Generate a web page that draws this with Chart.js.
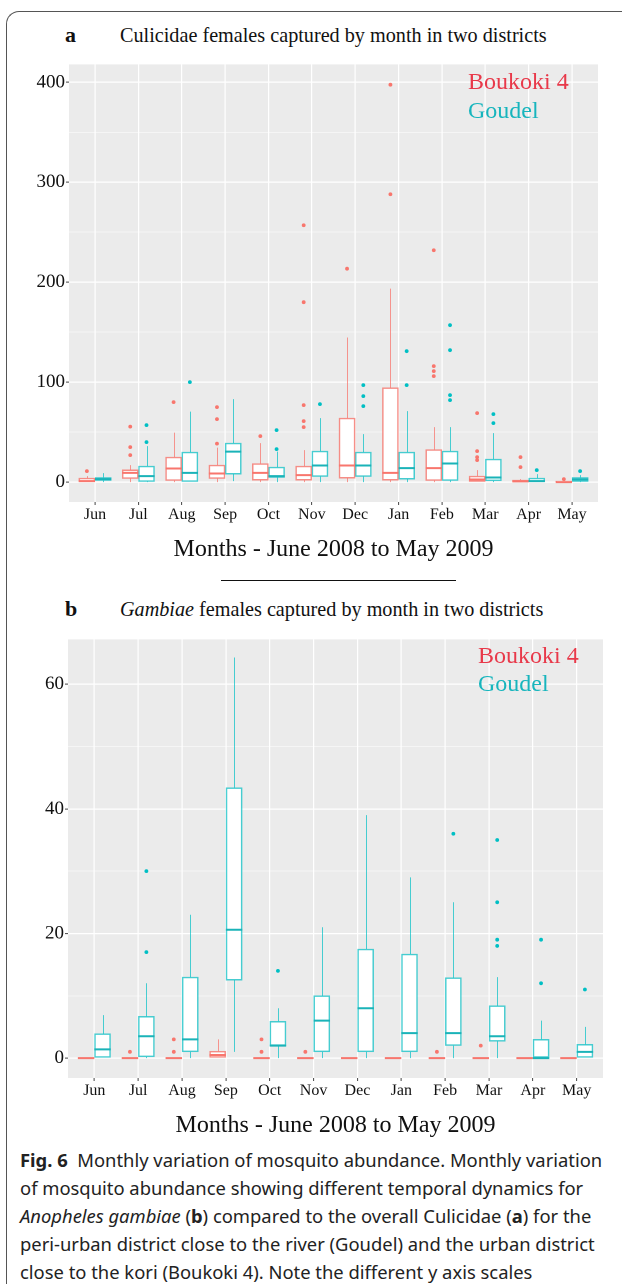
<!DOCTYPE html>
<html><head><meta charset="utf-8">
<script src="https://cdn.jsdelivr.net/npm/chart.js@4"></script>
<style>
body{margin:0;width:622px;height:1284px;overflow:hidden;background:#fff;position:relative;font-family:"Liberation Serif",serif;color:#111;}
.frame{position:absolute;left:6px;top:11px;width:640px;height:1300px;border:1.3px solid #555;border-right:none;border-bottom:none;border-radius:13px 0 0 0;box-sizing:border-box;}
.abs{position:absolute;white-space:nowrap;}
.cv{position:absolute;left:0;}
.lab{font-size:24px;line-height:28px;}
.ttl{font-size:20.2px;line-height:28px;}
.letter{font-size:22px;font-weight:bold;line-height:28px;}
.cap{left:20px;top:1146px;font-family:"Noto Sans",sans-serif;font-size:18.4px;line-height:28px;color:#222;}
</style></head>
<body>
<div class="frame"></div>
<div class="abs letter" style="left:65px;top:21px;">a</div>
<div class="abs ttl" style="left:120px;top:21px;">Culicidae females captured by month in two districts</div>
<canvas id="ca" class="cv" width="622" height="518" style="top:52px;"></canvas>
<div class="abs lab" style="left:468px;top:67px;color:#E8394A;">Boukoki 4</div>
<div class="abs lab" style="left:468px;top:96px;color:#17B5BD;">Goudel</div>
<div class="abs" style="left:221px;top:580px;width:235px;height:1px;background:#111;"></div>
<div class="abs letter" style="left:65px;top:595px;">b</div>
<div class="abs ttl" style="left:120px;top:595px;"><i>Gambiae</i> females captured by month in two districts</div>
<canvas id="cb" class="cv" width="622" height="519" style="top:627px;"></canvas>
<div class="abs lab" style="left:478px;top:641px;color:#E8394A;">Boukoki 4</div>
<div class="abs lab" style="left:478px;top:669px;color:#17B5BD;">Goudel</div>
<div class="abs cap"><b>Fig. 6</b>&nbsp; Monthly variation of mosquito abundance. Monthly variation<br>of mosquito abundance showing different temporal dynamics for<br><i>Anopheles gambiae</i> (<b>b</b>) compared to the overall Culicidae (<b>a</b>) for the<br>peri-urban district close to the river (Goudel) and the urban district<br>close to the kori (Boukoki 4). Note the different y axis scales</div>
<script>
// ---- data ----
const months = ['Jun','Jul','Aug','Sep','Oct','Nov','Dec','Jan','Feb','Mar','Apr','May'];
const axisTitle = 'Months - June 2008 to May 2009';
// [min, q1, median, q3, max]
const culicidaeBoukoki = [[0,0,1,4,6],[0,3.6,9.3,12.3,17],[0,1.6,13.6,25,49.5],[0,3.6,8.6,17,34.5],[0,2,9.3,18.5,39],[0,2,7,16,32],[0,4,16.6,64,144.7],[0,2,9.3,94.4,193.6],[0,1.6,14,32.5,55],[0,0,2.6,6,12],[0,0,0.7,2,3],[0,0,0,1,2]];
const culicidaeBoukokiOut = [[11],[27,35,55.5],[80],[38.5,63,75],[46],[55,61,77,180,257],[213.5],[288,397.6],[106,111,116,232],[22,25,31,69],[15,25],[3]];
const culicidaeGoudel = [[0,1.6,3,4.6,9],[0,0.6,6,16,36],[0,0,9.3,30,70.5],[1,8,30.5,39,83],[0,4.6,6,15,30.5],[0,5.6,16.6,31,64],[0,5.6,16.6,30,48],[0,3,14,30,71],[0,1.6,18.6,31,55],[0,1.3,4.6,23,49],[0,0,1,4,8],[0,0.6,2.6,4.6,7]];
const culicidaeGoudelOut = [[],[40,57],[100],[],[33,52],[78],[76,86,97],[97,131],[82,87,132,157],[59,68],[12],[11]];
const gambiaeBoukoki = [[0,0,0,0,0],[0,0,0,0,0],[0,0,0,0,0],[0,0,0.5,1.1,3],[0,0,0,0,0],[0,0,0,0,0],[0,0,0,0,0],[0,0,0,0,0],[0,0,0,0,0],[0,0,0,0,0],[0,0,0,0,0],[0,0,0,0,0]];
const gambiaeBoukokiOut = [[],[1],[1,3],[],[1,3],[1],[],[],[1],[2],[],[]];
const gambiaeGoudel = [[0,0,1.4,3.9,6.9],[0,0.2,3.5,6.7,12],[0,1,3,13,23],[1,12.5,20.6,43.4,64.3],[0,2,2,5.9,8],[0,1,6,10,21],[0,1,8,17.5,39],[0,1,4,16.7,29],[0,2,4,12.9,25],[0,2.7,3.5,8.4,13],[0,0,0,3,6],[0,0,1,2.2,5]];
const gambiaeGoudelOut = [[],[17,30],[],[],[14],[],[],[],[36],[18,19,25,35],[12,19],[11]];
const ticksA = [0,50,100,150,200,250,300,350,400];
const ticksB = [0,10,20,30,40,50,60];

// ---- style ----
const RED = '#F8766D', TEAL = '#00BFC4';
const HALF = 0.1875, OFF = 0.1875;

Chart.defaults.font.family = '"Liberation Serif", serif';
Chart.defaults.animation = false;

const boxPlugin = {
  id: 'boxWhisk',
  beforeDraw(chart){
    const {ctx, chartArea:a} = chart;
    ctx.save(); ctx.fillStyle = '#EBEBEB'; ctx.fillRect(a.left, a.top, a.width, a.height); ctx.restore();
  },
  beforeDatasetsDraw(chart, args, opts){
    const {ctx, scales:{x, y}} = chart;
    ctx.save();
    opts.series.forEach(s => {
      ctx.strokeStyle = s.whisker; ctx.lineWidth = 1;
      s.stats.forEach((st, i) => {
        const px = Math.round(x.getPixelForValue(i + s.offset)) + 0.5;
        ctx.beginPath();
        ctx.moveTo(px, y.getPixelForValue(st[0])); ctx.lineTo(px, y.getPixelForValue(st[1]));
        ctx.moveTo(px, y.getPixelForValue(st[3])); ctx.lineTo(px, y.getPixelForValue(st[4]));
        ctx.stroke();
      });
    });
    ctx.restore();
  },
  afterDatasetsDraw(chart, args, opts){
    const {ctx, scales:{x, y}} = chart;
    ctx.save();
    opts.series.forEach(s => {
      ctx.strokeStyle = s.median; ctx.lineWidth = 2;
      s.stats.forEach((st, i) => {
        const py = y.getPixelForValue(st[2]);
        ctx.beginPath();
        ctx.moveTo(x.getPixelForValue(i + s.offset - HALF), py);
        ctx.lineTo(x.getPixelForValue(i + s.offset + HALF), py);
        ctx.stroke();
      });
    });
    ctx.restore();
  }
};

function makeChart(id, redStats, redOut, tealStats, tealOut, yMin, yMax, yTicks, major, yWidth, rightPad){
  const series = [
    {stats: redStats, offset: -OFF, whisker: 'rgba(248,118,109,0.75)', median: RED},
    {stats: tealStats, offset: OFF, whisker: 'rgba(0,191,196,0.7)', median: '#1AB3B8'}
  ];
  const pts = (outs, off) => outs.flatMap((arr, i) => arr.map(v => ({x: i + off, y: v})));
  const boxes = (stats, off) => stats.map((st, i) => ({x: i + off, y: [st[1], st[3]]}));
  return new Chart(document.getElementById(id), {
    type: 'bar',
    data: {
      datasets: [
        {type: 'scatter', data: pts(redOut, -OFF), pointRadius: 1.9, pointBackgroundColor: RED, pointBorderWidth: 0},
        {type: 'scatter', data: pts(tealOut, OFF), pointRadius: 1.9, pointBackgroundColor: TEAL, pointBorderWidth: 0},
        {data: boxes(redStats, -OFF), backgroundColor: '#fff', borderColor: 'rgba(248,118,109,0.8)', borderWidth: 1.5, borderSkipped: false, barThickness: 16, grouped: false},
        {data: boxes(tealStats, OFF), backgroundColor: '#fff', borderColor: 'rgba(0,191,196,0.7)', borderWidth: 1.5, borderSkipped: false, barThickness: 16, grouped: false}
      ]
    },
    options: {
      responsive: false,
      devicePixelRatio: 2,
      layout: {padding: {top: 12, right: rightPad, left: 0, bottom: 0}},
      plugins: {legend: {display: false}, tooltip: {enabled: false}, boxWhisk: {series}},
      scales: {
        x: {
          type: 'linear', min: -0.6, max: 11.6, offset: false,
          afterBuildTicks: s => { s.ticks = months.map((m, i) => ({value: i})); },
          afterFit: s => { s.height = 68; },
          ticks: {callback: v => months[Math.round(v)], color: '#111', font: {size: 16}, padding: 0, maxRotation: 0, autoSkip: false},
          grid: {offset: false, color: '#fff', lineWidth: 1.2, tickLength: 3, tickColor: '#444', tickWidth: 1},
          border: {display: false},
          title: {display: true, text: axisTitle, color: '#111', font: {size: 24}, padding: {top: 0, bottom: 6}}
        },
        y: {
          type: 'linear', min: yMin, max: yMax,
          afterBuildTicks: s => { s.ticks = yTicks.map(v => ({value: v})); },
          afterFit: s => { s.width = yWidth; },
          ticks: {callback: v => (v % major === 0 ? String(v) : ''), color: '#111', font: {size: 19}, padding: 1},
          grid: {
            color: '#fff',
            lineWidth: c => (c.tick && c.tick.value % major === 0 ? 1.2 : 0.6),
            tickLength: 3,
            tickColor: c => (c.tick && c.tick.value % major === 0 ? '#444' : 'rgba(0,0,0,0)'),
            tickWidth: 1
          },
          border: {display: false}
        }
      }
    },
    plugins: [boxPlugin]
  });
}

makeChart('ca', culicidaeBoukoki, culicidaeBoukokiOut, culicidaeGoudel, culicidaeGoudelOut, -19.9, 417.9, ticksA, 100, 69, 24);
makeChart('cb', gambiaeBoukoki, gambiaeBoukokiOut, gambiaeGoudel, gambiaeGoudelOut, -3.2, 67.2, ticksB, 20, 68, 19);
</script>
</body></html>
